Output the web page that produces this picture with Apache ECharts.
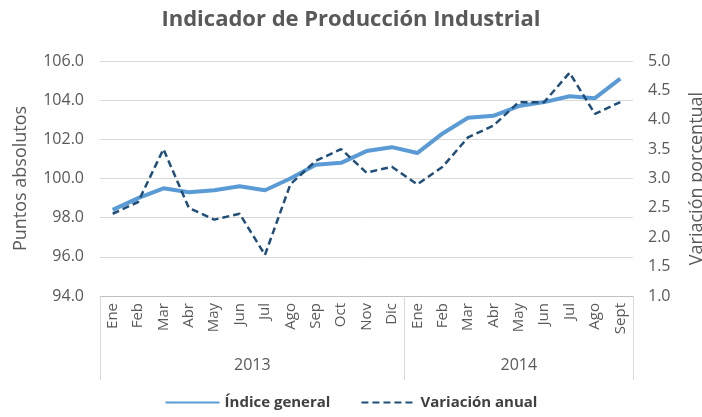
<!DOCTYPE html>
<html>
<head>
<meta charset="utf-8">
<script src="https://cdn.jsdelivr.net/npm/echarts@6/dist/echarts.min.js"></script>
<style>
  html, body { margin: 0; padding: 0; background: #fff; }
  #chart { width: 702px; height: 417px; }
</style>
</head>
<body>
<div id="chart"></div>
<script>
  // Meses (2013: Ene-Dic, 2014: Ene-Sept)
  const months = ["Ene","Feb","Mar","Abr","May","Jun","Jul","Ago","Sep","Oct","Nov","Dic",
                  "Ene","Feb","Mar","Abr","May","Jun","Jul","Ago","Sept"];
  const years = ["2013", "2014"];
  const monthsPerYear = [12, 9];

  // Puntos absolutos (eje izquierdo)
  const indiceGeneral = [98.4, 99.0, 99.5, 99.3, 99.4, 99.6, 99.4, 100.0, 100.7, 100.8, 101.4, 101.6,
                         101.3, 102.3, 103.1, 103.2, 103.7, 103.9, 104.2, 104.1, 105.1];
  // Variación porcentual (eje derecho)
  const variacionAnual = [2.4, 2.6, 3.5, 2.5, 2.3, 2.4, 1.7, 2.9, 3.3, 3.5, 3.1, 3.2,
                          2.9, 3.2, 3.7, 3.9, 4.3, 4.3, 4.8, 4.1, 4.3];

  // limites y centros de cada año sobre el eje de meses
  const yearBounds = [0];
  monthsPerYear.forEach(n => yearBounds.push(yearBounds[yearBounds.length - 1] + n));
  const yearCenters = years.map((y, i) => (yearBounds[i] + yearBounds[i + 1]) / 2);

  const gray = "#595959";
  const font = "Open Sans, Noto Sans, sans-serif";

  const chart = echarts.init(document.getElementById("chart"));

  const option = {
    animation: false,
    title: {
      text: "Indicador de Producción Industrial",
      left: "center",
      top: 4,
      textStyle: { color: gray, fontSize: 22, fontWeight: "bold", fontFamily: font }
    },
    legend: {
      bottom: 2,
      left: "center",
      itemWidth: 54,
      itemHeight: 12,
      itemGap: 30,
      itemStyle: { opacity: 0 },
      textStyle: { color: "#404040", fontSize: 15, fontWeight: "bold", fontFamily: font },
      data: ["Índice general", "Variación anual"]
    },
    grid: { left: 100, right: 69, top: 61, bottom: 121, outerBoundsMode: "none" },
    xAxis: [
      {
        type: "category",
        data: months,
        axisLine: { lineStyle: { color: "#BFBFBF" } },
        axisTick: { show: false },
        axisLabel: { rotate: 90, color: gray, fontSize: 15, fontFamily: font, margin: 7, interval: 0 }
      },
      {
        type: "value",
        min: 0,
        max: yearBounds[yearBounds.length - 1],
        position: "bottom",
        axisLine: { show: false },
        splitLine: { show: false },
        axisTick: {
          show: true,
          customValues: yearBounds,
          length: 84,
          lineStyle: { color: "#D9D9D9" }
        },
        axisLabel: {
          customValues: yearCenters,
          formatter: v => years[yearCenters.indexOf(v)] || "",
          color: gray, fontSize: 16, fontFamily: font, margin: 61
        }
      }
    ],
    yAxis: [
      {
        type: "value",
        min: 94, max: 106, interval: 2,
        name: "Puntos absolutos",
        nameLocation: "middle",
        nameRotate: 90,
        nameGap: 70,
        nameTextStyle: { color: gray, fontSize: 18, fontFamily: font },
        axisLine: { show: false },
        axisTick: { show: false },
        axisLabel: { color: gray, fontSize: 16, fontFamily: font, margin: 16, formatter: v => v.toFixed(1) },
        splitLine: { lineStyle: { color: "#D9D9D9" } }
      },
      {
        type: "value",
        min: 1, max: 5, interval: 0.5,
        name: "Variación porcentual",
        nameLocation: "middle",
        nameRotate: 90,
        nameGap: 55,
        nameTextStyle: { color: gray, fontSize: 18, fontFamily: font },
        axisLine: { show: false },
        axisTick: { show: false },
        axisLabel: { color: gray, fontSize: 16, fontFamily: font, margin: 15, formatter: v => v.toFixed(1) },
        splitLine: { show: false }
      }
    ],
    series: [
      {
        name: "Índice general",
        type: "line",
        data: indiceGeneral,
        yAxisIndex: 0,
        symbol: "none",
        lineStyle: { color: "#5B9BD5", width: 4 },
        itemStyle: { color: "#5B9BD5" },
        z: 2
      },
      {
        name: "Variación anual",
        type: "line",
        data: variacionAnual,
        yAxisIndex: 1,
        symbol: "none",
        lineStyle: { color: "#1F4E79", width: 2.5, type: [7, 4] },
        itemStyle: { color: "#1F4E79" },
        z: 3
      }
    ]
  };

  chart.setOption(option);
  window.addEventListener("resize", () => chart.resize());
</script>
</body>
</html>
